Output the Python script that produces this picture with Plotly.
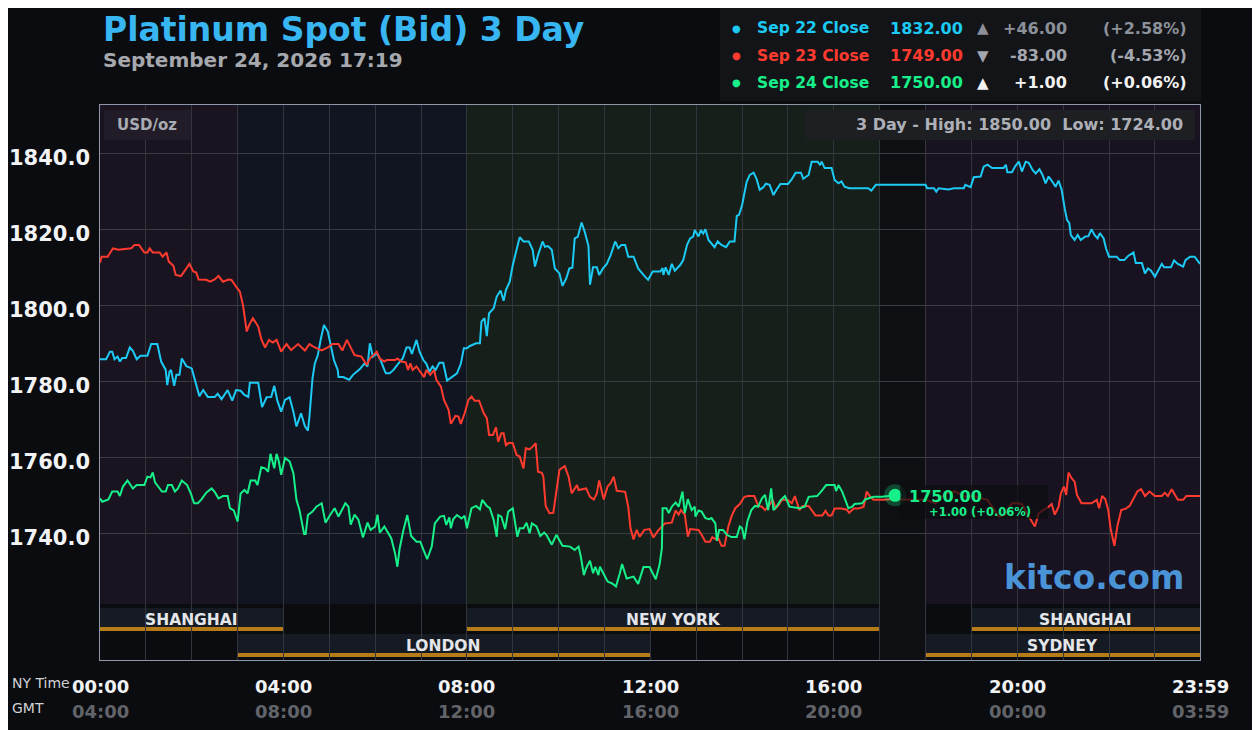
import plotly.graph_objects as go

# Price paths: (minutes after 00:00 NY time, USD/oz)
sep22 = [
    (0, 1785.8), (8, 1785.8), (13, 1787.8), (16, 1787.8), (19, 1785.8), (23, 1786.5), (26, 1785.2),
    (29, 1786.1), (34, 1786.1), (39, 1788.9), (43, 1788.0), (48, 1785.8), (53, 1786.7), (62, 1786.7),
    (67, 1789.8), (75, 1789.8), (80, 1785.2), (86, 1783.0), (88, 1779.0), (91, 1782.6), (93, 1783.0),
    (97, 1778.8), (100, 1781.7), (104, 1781.7), (107, 1786.0), (113, 1784.0), (120, 1783.4),
    (124, 1780.5), (130, 1776.1), (135, 1777.7), (141, 1775.9), (150, 1775.9), (154, 1776.7),
    (159, 1775.3), (167, 1777.7), (173, 1774.9), (178, 1777.7), (184, 1777.5), (189, 1776.4),
    (194, 1775.9), (196, 1779.6), (207, 1779.6), (212, 1773.2), (218, 1775.8), (224, 1775.9),
    (228, 1778.8), (232, 1774.9), (237, 1772.0), (242, 1775.1), (248, 1775.8), (253, 1772.0),
    (257, 1768.1), (263, 1771.6), (268, 1768.2), (272, 1767.0), (274, 1770.7), (278, 1780.8),
    (281, 1784.7), (285, 1786.9), (289, 1791.3), (293, 1794.8), (298, 1793.1), (302, 1789.1),
    (306, 1785.6), (311, 1783.0), (312, 1781.1), (318, 1781.1), (326, 1780.4), (331, 1781.7),
    (340, 1783.2), (346, 1784.7), (350, 1783.9), (353, 1790.0), (357, 1786.5), (362, 1787.4),
    (367, 1785.6), (372, 1783.0), (374, 1782.1), (379, 1782.1), (384, 1783.0), (390, 1784.6),
    (396, 1786.0), (401, 1788.9), (405, 1788.9), (408, 1787.2), (414, 1790.9), (418, 1787.8),
    (423, 1785.6), (427, 1784.6), (431, 1782.5), (435, 1783.9), (439, 1783.0), (444, 1784.9),
    (449, 1784.9), (454, 1780.2), (460, 1781.1), (467, 1782.1), (472, 1784.6), (476, 1788.7),
    (480, 1788.7), (484, 1789.3), (492, 1790.0), (497, 1790.0), (499, 1795.7), (503, 1796.6),
    (506, 1791.9), (509, 1797.9), (515, 1799.2), (519, 1802.3), (524, 1803.9), (528, 1801.2),
    (531, 1804.0), (536, 1806.2), (540, 1810.6), (544, 1814.1), (549, 1817.9), (554, 1816.8),
    (561, 1816.8), (566, 1814.6), (569, 1810.2), (573, 1813.2), (579, 1816.8), (582, 1815.4),
    (586, 1815.6), (591, 1814.6), (595, 1809.7), (601, 1808.4), (605, 1805.1), (610, 1807.1),
    (614, 1809.7), (618, 1809.9), (621, 1817.6), (625, 1818.0), (630, 1821.8), (634, 1819.4),
    (639, 1815.6), (641, 1805.4), (645, 1810.0), (650, 1810.0), (653, 1808.0), (658, 1809.7),
    (663, 1810.9), (668, 1813.2), (674, 1816.8), (678, 1815.0), (682, 1815.9), (687, 1815.9),
    (691, 1812.8), (698, 1812.8), (704, 1809.7), (711, 1808.0), (717, 1806.7), (723, 1808.9),
    (733, 1808.9), (736, 1809.8), (737, 1808.0), (740, 1810.0), (744, 1808.0), (748, 1810.9),
    (752, 1809.1), (759, 1810.6), (763, 1811.9), (768, 1815.9), (772, 1817.6), (776, 1818.1),
    (778, 1819.8), (783, 1818.1), (786, 1819.8), (789, 1818.9), (792, 1820.0), (796, 1817.2),
    (800, 1816.3), (804, 1815.3), (808, 1816.8), (813, 1815.9), (819, 1815.3), (824, 1816.8),
    (830, 1816.8), (833, 1823.5), (836, 1823.8), (840, 1826.4), (843, 1829.5), (846, 1832.5),
    (850, 1834.3), (855, 1834.9), (859, 1833.2), (863, 1830.4), (868, 1831.1), (871, 1832.0),
    (876, 1831.7), (881, 1829.0), (885, 1830.4), (890, 1831.9), (900, 1831.9), (905, 1833.2),
    (910, 1834.9), (917, 1834.9), (920, 1833.3), (927, 1834.3), (931, 1837.8), (939, 1837.8),
    (942, 1836.9), (944, 1837.8), (948, 1836.1), (957, 1836.1), (961, 1833.0), (966, 1832.1),
    (970, 1832.6), (974, 1831.2), (980, 1830.8), (1005, 1830.8), (1009, 1830.2), (1015, 1831.7),
    (1080, 1831.7), (1082, 1830.8), (1091, 1830.8), (1094, 1829.9), (1097, 1830.8), (1110, 1830.5),
    (1117, 1830.8), (1130, 1830.8), (1132, 1831.7), (1139, 1831.1), (1143, 1833.7), (1152, 1833.9),
    (1156, 1836.5), (1161, 1837.0), (1167, 1836.1), (1182, 1836.1), (1185, 1837.0), (1187, 1835.0),
    (1193, 1835.0), (1197, 1836.5), (1202, 1837.8), (1206, 1835.2), (1211, 1837.8), (1215, 1837.5),
    (1220, 1835.6), (1224, 1834.7), (1229, 1835.8), (1233, 1834.3), (1237, 1832.1), (1241, 1833.9),
    (1246, 1832.5), (1250, 1831.2), (1254, 1832.8), (1258, 1830.4), (1262, 1825.5), (1265, 1822.5),
    (1268, 1821.6), (1270, 1818.5), (1275, 1817.2), (1279, 1818.5), (1283, 1817.2), (1289, 1818.1),
    (1293, 1818.2), (1297, 1820.0), (1301, 1818.5), (1305, 1817.6), (1308, 1819.0), (1313, 1817.6),
    (1316, 1815.0), (1320, 1812.8), (1330, 1812.8), (1334, 1811.9), (1340, 1811.9), (1345, 1813.0),
    (1352, 1813.9), (1355, 1811.1), (1363, 1811.1), (1367, 1808.4), (1371, 1809.7), (1375, 1809.1),
    (1380, 1807.5), (1384, 1808.9), (1389, 1810.9), (1392, 1810.0), (1401, 1810.0), (1405, 1811.8),
    (1410, 1810.9), (1417, 1810.2), (1420, 1811.9), (1426, 1812.8), (1432, 1812.8), (1439, 1810.9),
]

sep23 = [
    (0, 1811.2), (2, 1812.8), (10, 1812.8), (17, 1815.0), (24, 1814.6), (41, 1815.0), (45, 1815.9),
    (51, 1815.9), (58, 1813.9), (62, 1813.9), (65, 1815.0), (69, 1813.9), (78, 1813.9), (82, 1812.8),
    (87, 1813.9), (90, 1811.5), (96, 1810.4), (99, 1808.0), (106, 1807.7), (111, 1809.3),
    (117, 1810.9), (122, 1808.9), (126, 1808.6), (129, 1806.8), (139, 1806.7), (144, 1806.2),
    (150, 1806.8), (155, 1807.7), (161, 1806.2), (168, 1806.8), (172, 1806.7), (178, 1804.9),
    (183, 1803.6), (187, 1800.1), (189, 1797.5), (192, 1793.1), (195, 1794.8), (200, 1796.6),
    (207, 1794.4), (211, 1791.1), (216, 1788.9), (221, 1790.9), (226, 1790.2), (231, 1790.9),
    (237, 1787.8), (244, 1789.8), (250, 1788.2), (259, 1789.8), (268, 1788.1), (274, 1789.8),
    (281, 1788.9), (290, 1788.1), (298, 1788.9), (304, 1789.8), (312, 1789.8), (317, 1788.1),
    (323, 1790.9), (329, 1788.7), (333, 1786.9), (342, 1786.5), (349, 1784.3), (353, 1786.0),
    (362, 1787.8), (366, 1786.0), (372, 1785.2), (375, 1785.6), (386, 1785.6), (389, 1786.0),
    (394, 1785.2), (400, 1785.0), (403, 1783.0), (406, 1784.7), (409, 1783.0), (414, 1783.9),
    (421, 1782.1), (424, 1781.1), (427, 1783.0), (432, 1781.7), (437, 1783.0), (440, 1780.4),
    (446, 1778.6), (450, 1775.1), (456, 1772.5), (459, 1768.8), (465, 1770.9), (469, 1770.7),
    (472, 1768.8), (477, 1771.6), (482, 1775.1), (486, 1776.0), (490, 1774.9), (496, 1774.9),
    (502, 1771.6), (506, 1770.3), (509, 1765.9), (514, 1765.9), (518, 1767.9), (521, 1764.1),
    (525, 1766.3), (528, 1766.3), (531, 1763.2), (535, 1763.8), (540, 1763.7), (545, 1760.6),
    (549, 1760.2), (554, 1757.1), (557, 1762.4), (562, 1762.1), (566, 1762.8), (570, 1763.7),
    (573, 1756.2), (578, 1755.9), (580, 1754.9), (583, 1747.2), (588, 1745.3), (593, 1745.4),
    (597, 1751.0), (601, 1756.7), (608, 1757.7), (613, 1754.9), (617, 1750.5), (620, 1751.4),
    (624, 1752.7), (626, 1751.4), (636, 1751.8), (641, 1749.6), (646, 1748.9), (650, 1750.5),
    (653, 1753.9), (659, 1748.9), (664, 1752.3), (668, 1753.2), (672, 1754.9), (676, 1751.2),
    (687, 1750.9), (691, 1747.0), (694, 1741.3), (698, 1738.4), (702, 1740.9), (706, 1739.1),
    (712, 1740.9), (719, 1741.1), (724, 1738.9), (730, 1740.7), (739, 1742.6), (748, 1742.8),
    (753, 1746.0), (757, 1744.9), (760, 1746.1), (765, 1744.9), (769, 1739.1), (772, 1741.1),
    (783, 1740.9), (787, 1739.6), (792, 1737.8), (798, 1737.8), (801, 1739.0), (806, 1738.4),
    (808, 1739.1), (813, 1736.7), (817, 1736.7), (822, 1741.8), (826, 1744.4), (831, 1746.6),
    (837, 1747.7), (843, 1749.6), (848, 1749.8), (856, 1749.8), (861, 1747.2), (866, 1747.0),
    (870, 1746.1), (875, 1747.2), (880, 1748.8), (884, 1746.6), (888, 1747.5), (892, 1748.8),
    (899, 1748.8), (905, 1747.9), (909, 1749.8), (915, 1746.1), (919, 1747.2), (927, 1747.2),
    (931, 1746.1), (936, 1744.7), (945, 1744.7), (949, 1745.9), (953, 1744.7), (957, 1744.7),
    (961, 1746.5), (970, 1746.5), (977, 1746.2), (980, 1745.4), (986, 1746.5), (992, 1746.5),
    (999, 1747.0), (1003, 1751.0), (1007, 1749.8), (1012, 1748.8), (1025, 1748.8), (1038, 1749.0),
    (1062, 1748.8), (1080, 1748.8), (1093, 1747.9), (1106, 1750.5), (1119, 1751.0), (1132, 1749.6),
    (1143, 1749.8), (1154, 1749.2), (1161, 1748.8), (1167, 1747.0), (1176, 1744.4), (1184, 1744.9),
    (1193, 1747.9), (1200, 1747.9), (1206, 1747.7), (1215, 1744.4), (1223, 1741.8), (1228, 1745.3),
    (1235, 1746.1), (1241, 1747.0), (1245, 1747.7), (1249, 1744.9), (1254, 1747.0), (1257, 1750.5),
    (1261, 1752.3), (1264, 1750.1), (1267, 1756.0), (1271, 1754.5), (1275, 1753.6), (1278, 1750.1),
    (1284, 1747.9), (1297, 1747.9), (1304, 1748.8), (1307, 1746.6), (1311, 1749.8), (1315, 1749.0),
    (1319, 1746.1), (1322, 1741.3), (1327, 1736.7), (1331, 1742.0), (1336, 1746.1), (1342, 1746.5),
    (1347, 1747.2), (1352, 1749.2), (1357, 1751.0), (1362, 1751.6), (1367, 1749.8), (1373, 1751.0),
    (1380, 1749.8), (1389, 1749.8), (1393, 1750.7), (1397, 1749.8), (1402, 1751.6), (1410, 1748.8),
    (1417, 1748.8), (1421, 1749.8), (1439, 1749.8),
]

sep24 = [
    (0, 1749.2), (3, 1748.3), (11, 1748.9), (16, 1751.0), (23, 1751.0), (26, 1749.8), (30, 1752.3),
    (36, 1753.9), (43, 1751.8), (48, 1752.7), (58, 1752.7), (62, 1754.9), (66, 1754.7), (69, 1756.0),
    (72, 1753.4), (78, 1751.8), (81, 1751.0), (86, 1751.0), (89, 1752.7), (94, 1752.7), (98, 1751.0),
    (102, 1751.8), (107, 1753.9), (114, 1752.7), (119, 1750.4), (123, 1747.9), (128, 1747.9),
    (133, 1749.0), (139, 1750.7), (146, 1751.8), (150, 1750.9), (155, 1749.2), (161, 1749.8),
    (167, 1749.8), (170, 1746.6), (175, 1746.0), (180, 1743.1), (184, 1750.5), (189, 1751.4),
    (193, 1750.5), (197, 1753.9), (203, 1753.9), (206, 1752.7), (211, 1757.4), (216, 1757.1),
    (220, 1756.2), (223, 1760.9), (228, 1757.1), (231, 1760.9), (234, 1758.9), (237, 1755.4),
    (242, 1759.8), (248, 1758.9), (253, 1755.8), (257, 1748.8), (261, 1746.1), (267, 1739.8),
    (269, 1739.8), (272, 1744.8), (278, 1745.7), (283, 1747.0), (290, 1747.9), (295, 1742.8),
    (301, 1744.8), (307, 1746.6), (312, 1744.4), (316, 1746.1), (321, 1747.9), (325, 1747.0),
    (328, 1742.3), (333, 1744.9), (338, 1743.6), (344, 1738.9), (350, 1742.8), (354, 1740.9),
    (360, 1741.8), (363, 1744.9), (366, 1740.2), (372, 1741.8), (377, 1740.0), (381, 1738.7),
    (386, 1734.7), (389, 1731.2), (392, 1736.0), (397, 1740.9), (402, 1744.8), (407, 1739.3),
    (414, 1737.8), (419, 1737.8), (425, 1734.7), (428, 1733.2), (434, 1736.5), (438, 1742.6),
    (445, 1744.4), (450, 1744.6), (453, 1742.2), (457, 1744.2), (459, 1741.3), (462, 1743.7),
    (467, 1744.8), (473, 1743.9), (477, 1744.6), (480, 1741.3), (486, 1746.6), (492, 1747.2),
    (497, 1746.3), (500, 1748.8), (506, 1747.2), (510, 1746.6), (515, 1743.5), (519, 1739.1),
    (521, 1744.8), (525, 1744.4), (530, 1741.1), (534, 1745.7), (540, 1746.6), (543, 1742.6),
    (546, 1739.1), (549, 1741.3), (554, 1741.3), (558, 1742.8), (562, 1740.0), (565, 1742.6),
    (571, 1741.8), (576, 1739.3), (581, 1740.2), (584, 1739.6), (591, 1737.0), (597, 1739.6),
    (605, 1736.7), (615, 1736.5), (621, 1735.6), (626, 1736.5), (629, 1733.9), (633, 1729.0),
    (636, 1730.8), (641, 1732.8), (645, 1729.5), (648, 1731.2), (652, 1729.0), (654, 1731.2),
    (658, 1729.5), (664, 1727.3), (670, 1726.8), (675, 1726.0), (680, 1729.5), (683, 1731.9),
    (689, 1728.1), (698, 1728.6), (704, 1726.7), (711, 1731.1), (719, 1731.1), (723, 1729.5),
    (727, 1727.9), (732, 1731.7), (735, 1736.0), (736, 1746.6), (741, 1746.6), (744, 1745.3),
    (748, 1747.0), (753, 1748.1), (757, 1747.0), (762, 1751.0), (765, 1745.3), (769, 1749.0),
    (774, 1746.1), (778, 1747.0), (779, 1744.4), (783, 1746.0), (787, 1745.7), (792, 1744.0),
    (797, 1743.7), (800, 1744.0), (805, 1742.6), (807, 1738.0), (810, 1740.9), (815, 1740.9),
    (820, 1739.6), (826, 1739.0), (833, 1739.0), (837, 1741.8), (840, 1741.3), (843, 1738.4),
    (847, 1743.2), (852, 1746.1), (857, 1747.2), (861, 1747.0), (866, 1749.2), (870, 1750.1),
    (874, 1746.1), (878, 1751.8), (881, 1746.1), (885, 1747.0), (890, 1748.6), (896, 1749.8),
    (902, 1747.0), (915, 1746.6), (922, 1747.0), (927, 1749.6), (933, 1749.8), (938, 1749.8),
    (943, 1750.9), (950, 1752.7), (961, 1752.7), (963, 1751.1), (966, 1752.7), (971, 1750.9),
    (975, 1748.8), (979, 1746.6), (984, 1747.0), (987, 1747.7), (997, 1747.9), (1001, 1748.9),
    (1012, 1749.6), (1023, 1749.6), (1040, 1750.0),
]

series_names = ["Sep 22", "Sep 23", "Sep 24"]
series_colors = ["#1ccaf4", "#ff3b2f", "#17f08a"]
close_values = ["1832.00", "1749.00", "1750.00"]
change_values = ["+46.00", "-83.00", "+1.00"]
change_pcts = ["(+2.58%)", "(-4.53%)", "(+0.06%)"]
change_arrows = ["▲", "▼", "▲"]
change_colors = ["#8c9099", "#a3a7af", "#f2f2f2"]

y_ticks = [1740, 1760, 1780, 1800, 1820, 1840]
ny_hours = [0, 240, 480, 720, 960, 1200, 1439]
ny_labels = ["00:00", "04:00", "08:00", "12:00", "16:00", "20:00", "23:59"]
gmt_labels = ["04:00", "08:00", "12:00", "16:00", "20:00", "00:00", "03:59"]

# trading sessions: (name, start min, end min, row)
sessions = [
    ("SHANGHAI", 0, 240, 0), ("NEW YORK", 480, 1020, 0), ("SHANGHAI", 1140, 1439, 0),
    ("LONDON", 180, 720, 1), ("SYDNEY", 1080, 1439, 1),
]
# background zones of the price area
zones = [(0, 180, "#1a1320"), (180, 480, "#111522"), (480, 1020, "#161f19"),
         (1020, 1080, "#0e0f12"), (1080, 1439, "#181221")]

# the page puts the figure 8px in from the top-left corner
OFF = 8
W, H = 1260 - OFF, 730 - OFF
L, R, T, B = 100, 1200, 105, 660
FONT = "DejaVu Sans"
BG = "#0b0c0f"


def px(x):
    return (x - L) / (R - L)


def py(y):
    return (B - y) / (B - T)


# y scale: 1840 at pixel 153.3, 3.8 px per dollar
y_top = 1840 + (153.3 - T) / 3.8
y_bot = 1840 - (B - 153.3) / 3.8

fig = go.Figure()

for data, name, color in zip([sep22, sep23, sep24], series_names, series_colors):
    t, p = zip(*data)
    fig.add_trace(go.Scatter(x=t, y=p, mode="lines", name=name,
                             line=dict(color=color, width=2), hoverinfo="skip"))

# last price marker
last_t, last_p = sep24[-1]
fig.add_trace(go.Scatter(x=[last_t], y=[last_p], mode="markers",
                         marker=dict(size=22, color="rgba(23,240,138,0.25)"), hoverinfo="skip"))
fig.add_trace(go.Scatter(x=[last_t], y=[last_p], mode="markers",
                         marker=dict(size=13, color=series_colors[2]), hoverinfo="skip"))

shapes = []
price_floor = py(604)
for x0, x1, col in zones:
    shapes.append(dict(type="rect", xref="x", yref="paper", x0=x0, x1=x1, y0=price_floor, y1=1,
                       fillcolor=col, line_width=0, layer="below"))
shapes.append(dict(type="rect", xref="x", yref="paper", x0=1020, x1=1080, y0=0, y1=price_floor,
                   fillcolor="#0e0f12", line_width=0, layer="below"))

row_top = [608, 634]
annotations = []
for name, s0, s1, row in sessions:
    top = row_top[row]
    shapes.append(dict(type="rect", xref="x", yref="paper", x0=s0, x1=s1, y0=py(top + 23), y1=py(top),
                       fillcolor="#151a23", line_width=0, layer="below"))
    shapes.append(dict(type="rect", xref="x", yref="paper", x0=s0, x1=s1, y0=py(top + 23), y1=py(top + 19),
                       fillcolor="#b57c17", line_width=0, layer="below"))
    annotations.append(dict(x=(s0 + s1) / 2, y=py(top + 12), xref="x", yref="paper", text=name,
                            showarrow=False, yanchor="middle",
                            font=dict(family=FONT, size=15.5, color="#e4e6ea", weight="bold")))

# header legend box
shapes.append(dict(type="rect", xref="paper", yref="paper", x0=px(720), x1=px(1201), y0=py(101), y1=py(8),
                   fillcolor="#131418", line_width=0))
# USD/oz and high/low boxes
shapes.append(dict(type="rect", xref="paper", yref="paper", x0=px(104), x1=px(191), y0=py(140), y1=py(110),
                   fillcolor="#211c27", line_width=0))
shapes.append(dict(type="rect", xref="paper", yref="paper", x0=px(806), x1=px(1195), y0=py(140), y1=py(110),
                   fillcolor="#1e1f23", line_width=0))
# last price label box
shapes.append(dict(type="rect", xref="x", yref="paper", x0=1047, x1=1240, y0=py(519), y1=py(485),
                   fillcolor="rgba(14,14,16,0.72)", line_width=0))

annotations += [
    dict(x=px(101), y=py(29), xref="paper", yref="paper", xanchor="left", yanchor="middle", showarrow=False,
         text="Platinum Spot (Bid) 3 Day",
         font=dict(family=FONT, size=33, color="#38b6f2", weight="bold")),
    dict(x=px(101), y=py(60), xref="paper", yref="paper", xanchor="left", yanchor="middle", showarrow=False,
         text="September 24, 2026 17:19",
         font=dict(family=FONT, size=20, color="#a6a8ae", weight="bold")),
    dict(x=px(115), y=py(125), xref="paper", yref="paper", xanchor="left", yanchor="middle", showarrow=False,
         text="USD/oz", font=dict(family=FONT, size=15, color="#a8abb3", weight="bold")),
    dict(x=px(1185), y=py(125), xref="paper", yref="paper", xanchor="right", yanchor="middle", showarrow=False,
         text="3 Day - High: 1850.00  Low: 1724.00",
         font=dict(family=FONT, size=16, color="#adb0b7", weight="bold")),
    dict(x=px(1186), y=py(577), xref="paper", yref="paper", xanchor="right", yanchor="middle", showarrow=False,
         text="kitco.com", font=dict(family=FONT, size=33, color="#4a93d6", weight="bold")),
    dict(x=last_t, y=py(496), xref="x", yref="paper", xanchor="left", yanchor="middle", xshift=12,
         showarrow=False, text=close_values[2],
         font=dict(family=FONT, size=16, color=series_colors[2], weight="bold")),
    dict(x=last_t, y=py(512), xref="x", yref="paper", xanchor="left", yanchor="middle", xshift=32,
         showarrow=False, text=change_values[2] + " " + change_pcts[2],
         font=dict(family=FONT, size=11.5, color=series_colors[2], weight="bold")),
    dict(x=px(10), y=py(683), xref="paper", yref="paper", xanchor="left", yanchor="middle", showarrow=False,
         text="NY Time", font=dict(family=FONT, size=14, color="#d0d2d6")),
    dict(x=px(10), y=py(708), xref="paper", yref="paper", xanchor="left", yanchor="middle", showarrow=False,
         text="GMT", font=dict(family=FONT, size=14, color="#d0d2d6")),
]

for v in y_ticks:
    annotations.append(dict(x=px(92), y=v, xref="paper", yref="y", xanchor="right", yanchor="middle",
                            yshift=-5, showarrow=False, text=f"{v:.1f}",
                            font=dict(family=FONT, size=21, color="#f2f3f5", weight="bold")))

for xv, ny, gmt in zip(ny_hours, ny_labels, gmt_labels):
    annotations.append(dict(x=xv, y=py(686), xref="x", yref="paper", yanchor="middle", showarrow=False,
                            text=ny, font=dict(family=FONT, size=18, color="#f2f3f5", weight="bold")))
    annotations.append(dict(x=xv, y=py(711), xref="x", yref="paper", yanchor="middle", showarrow=False,
                            text=gmt, font=dict(family=FONT, size=18, color="#62646a", weight="bold")))

for i, (name, color) in enumerate(zip(series_names, series_colors)):
    yy = py(28 + i * 27.5)
    annotations += [
        dict(x=px(736), y=yy, xref="paper", yref="paper", xanchor="center", yanchor="middle", showarrow=False,
             text="●", font=dict(family=FONT, size=10, color=color)),
        dict(x=px(755), y=yy, xref="paper", yref="paper", xanchor="left", yanchor="middle", showarrow=False,
             text=name + " Close", font=dict(family=FONT, size=15.5, color=color, weight="bold")),
        dict(x=px(965), y=yy, xref="paper", yref="paper", xanchor="right", yanchor="middle", showarrow=False,
             text=close_values[i], font=dict(family=FONT, size=16, color=color, weight="bold")),
        dict(x=px(983), y=yy, xref="paper", yref="paper", xanchor="center", yanchor="middle", showarrow=False,
             text=change_arrows[i], font=dict(family=FONT, size=15, color=change_colors[i])),
        dict(x=px(1069), y=yy, xref="paper", yref="paper", xanchor="right", yanchor="middle", showarrow=False,
             text=change_values[i], font=dict(family=FONT, size=16, color=change_colors[i], weight="bold")),
        dict(x=px(1189), y=yy, xref="paper", yref="paper", xanchor="right", yanchor="middle", showarrow=False,
             text=change_pcts[i], font=dict(family=FONT, size=16, color=change_colors[i], weight="bold")),
    ]

fig.update_layout(
    width=W, height=H, autosize=False,
    margin=dict(l=L - OFF, r=W - (R - OFF), t=T - OFF, b=H - (B - OFF)),
    paper_bgcolor=BG, plot_bgcolor=BG,
    showlegend=False,
    shapes=shapes, annotations=annotations,
    xaxis=dict(range=[0, 1439], tickvals=list(range(0, 1440, 60)), showticklabels=False,
               showgrid=True, gridcolor="#33353d", gridwidth=1, zeroline=False,
               showline=True, mirror=True, linecolor="#8f98ab", linewidth=1, ticks=""),
    yaxis=dict(range=[y_bot, y_top], tickvals=y_ticks, showticklabels=False,
               showgrid=True, gridcolor="#3a3c44", gridwidth=1, zeroline=False,
               showline=True, mirror=True, linecolor="#8f98ab", linewidth=1, ticks=""),
)

fig.write_html("out.html")
